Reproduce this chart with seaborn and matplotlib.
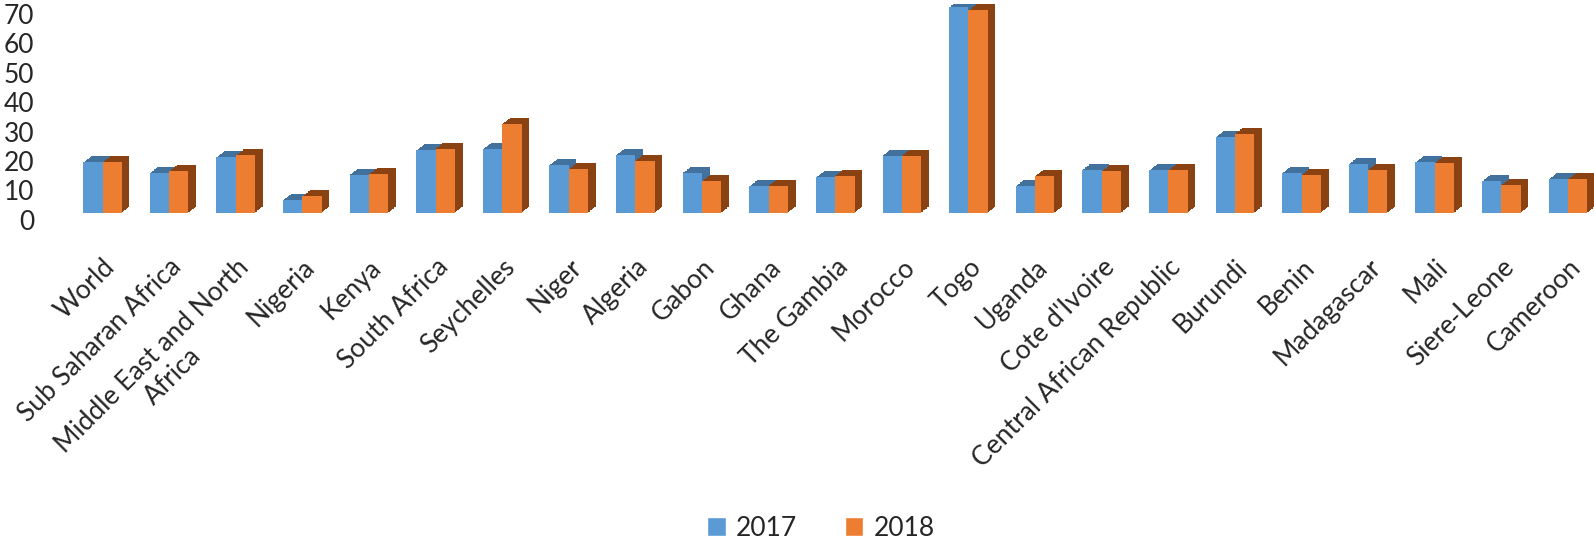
import pandas as pd
import matplotlib.pyplot as plt
import matplotlib.patheffects as pe
import matplotlib.transforms as mtransforms
from matplotlib.patches import Patch
import seaborn as sns

# data
countries = ["World", "Sub Saharan Africa", "Middle East and North\nAfrica", "Nigeria",
             "Kenya", "South Africa", "Seychelles", "Niger", "Algeria", "Gabon", "Ghana",
             "The Gambia", "Morocco", "Togo", "Uganda", "Cote d'Ivoire",
             "Central African Republic", "Burundi", "Benin", "Madagascar", "Mali",
             "Siere-Leone", "Cameroon"]
v2017 = [17.1, 13.5, 18.9, 4.3, 12.9, 21.2, 21.6, 16.2, 19.6, 13.5, 9.0, 12.0,
         19.4, 69.9, 9.1, 14.6, 14.4, 25.7, 13.5, 16.6, 17.2, 10.7, 11.4]
v2018 = [17.2, 14.1, 19.5, 5.6, 13.2, 21.8, 30.2, 14.9, 17.7, 10.7, 9.2, 12.6,
         19.4, 68.8, 12.5, 14.1, 14.4, 26.9, 12.9, 14.6, 17.0, 9.4, 11.5]
years = ["2017", "2018"]

df = pd.DataFrame({"country": countries, "2017": v2017, "2018": v2018})
df = df.melt(id_vars="country", var_name="year", value_name="value")

face = {"2017": "#5b9bd5", "2018": "#ed7d31"}
depth = {"2017": "#41719c", "2018": "#8a4212"}

sns.set_style("white")
plt.rcParams['font.family'] = ['Lato', 'DejaVu Sans']

fig = plt.figure(figsize=(15.94, 5.57), dpi=100)
ax = fig.add_axes([69.2 / 1594, (557 - 212.7) / 557, (1594 - 69.2) / 1594, 208.7 / 557])

sns.barplot(data=df, x="country", y="value", hue="year", palette=face,
            width=0.58, linewidth=0, saturation=1, legend=False, ax=ax)

# fake 3d depth: stack offset shadows behind each bar
for cont, yr in zip(ax.containers, years):
    effects = [pe.SimplePatchShadow(offset=(0.55 * k, 0.43 * k), shadow_rgbFace=depth[yr],
                                    alpha=1, rho=1) for k in range(1, 11)]
    for bar in cont:
        bar.set_path_effects(effects + [pe.Normal()])

ax.set_xlim(-0.5, 22.39)
ax.set_ylim(0, 71)
ax.set_yticks(range(0, 80, 10))
ax.set_xlabel("")
ax.set_ylabel("")
sns.despine(ax=ax, left=True, bottom=True)
ax.tick_params(axis="y", length=0, pad=25, labelsize=19)
ax.tick_params(axis="x", length=0, pad=30, labelsize=19)

shift = mtransforms.ScaledTranslation(0, -0.07, fig.dpi_scale_trans)
for lab in ax.get_yticklabels():
    lab.set_transform(lab.get_transform() + shift)

ax.set_xticks(range(len(countries)))
ax.set_xticklabels(countries, rotation=45, ha="right", va="top",
                   rotation_mode="anchor", multialignment="center")

handles = [Patch(facecolor=face[y], label=y) for y in years]
fig.legend(handles=handles, loc="center", bbox_to_anchor=(821 / 1594, 1 - 528 / 557),
           ncol=2, frameon=False, fontsize=19, handlelength=0.7, handleheight=0.7,
           handletextpad=0.4, columnspacing=1.8)

fig.savefig("out.png", dpi=100)
